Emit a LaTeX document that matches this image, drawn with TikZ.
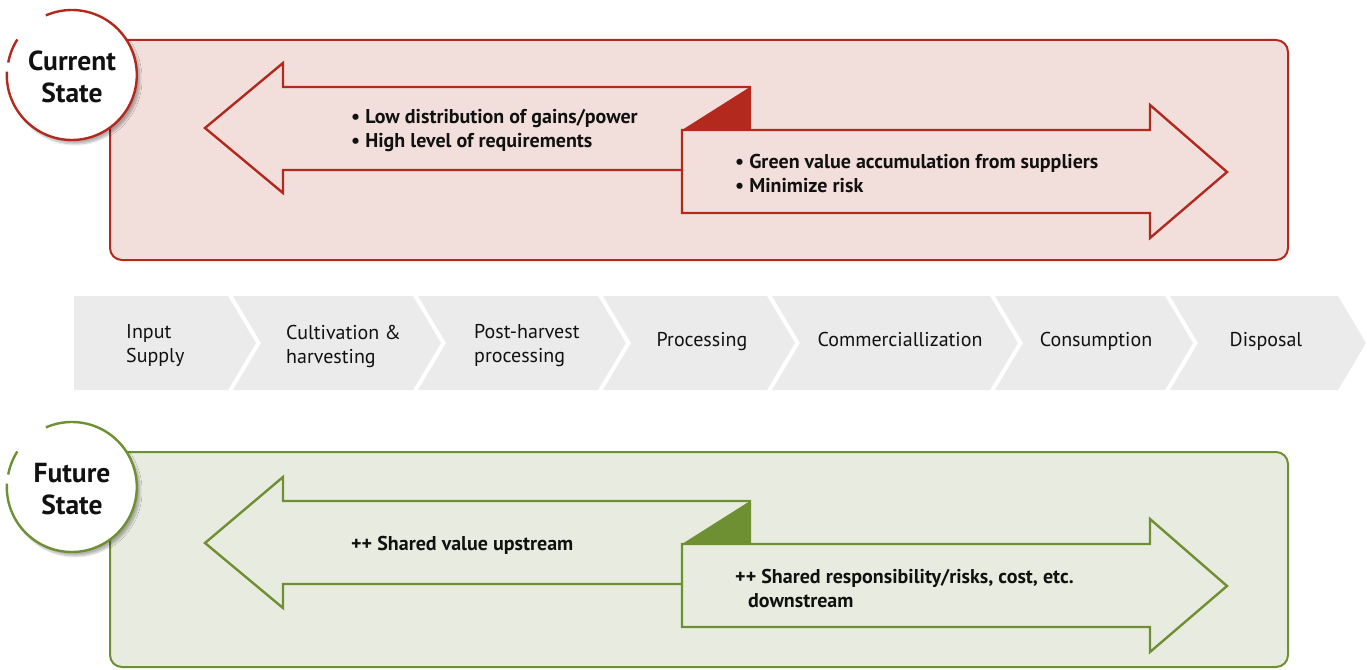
\documentclass[tikz,border=0pt]{standalone}
\usepackage{fontspec}
\setmainfont{PT Sans}
\usetikzlibrary{shadows.blur}
\definecolor{redline}{HTML}{B3291E}
\definecolor{redfill}{HTML}{F2DFDC}
\definecolor{greenline}{HTML}{6E9032}
\definecolor{greenfill}{HTML}{E8ECE0}
\definecolor{chevgray}{HTML}{EBEBEB}
\definecolor{txt}{HTML}{111111}
\tikzset{
  statebox/.style={rounded corners=12pt, line width=2pt},
  bigarrow/.style={line width=2.4pt, line join=miter},
  statecircle/.style={circle, minimum size=130pt, inner sep=0pt, fill=white,
    blur shadow={shadow blur steps=8, shadow xshift=3pt, shadow yshift=-4pt, shadow opacity=30}},
  statetext/.style={font=\fontsize{27.5}{32}\selectfont\bfseries, align=center, text=txt},
  bullettext/.style={font=\fontsize{20}{24}\selectfont\bfseries, align=left, anchor=west, inner sep=0pt, text=txt},
  chevtext/.style={font=\fontsize{20}{24}\selectfont, text=txt, inner sep=0pt},
  chevsingle/.style={chevtext, text height=14pt, text depth=4pt},
  chev/.style={fill=chevgray, draw=none},
}
\begin{document}
\begin{tikzpicture}[x=1pt, y=-1pt]
\useasboundingbox (0,0) rectangle (1370,669);

% ---------- Current state ----------
\draw[statebox, draw=redline, fill=redfill] (110,40) rectangle (1288,260);
% left arrow
\draw[bigarrow, draw=redline, fill=redfill]
  (205,128) -- (283,63) -- (283,87) -- (750,87) -- (750,170) -- (283,170) -- (283,193) -- cycle;
% fold
\fill[redline] (682,130) -- (750,87) -- (750,130) -- cycle;
% right arrow
\draw[bigarrow, draw=redline, fill=redfill]
  (682,130) -- (1150,130) -- (1150,105) -- (1227,172) -- (1150,238) -- (1150,213) -- (682,213) -- cycle;
\node[bullettext] (cl) at (351,130) {• Low distribution of gains/power\\• High level of requirements};
\node[bullettext] (cr) at (735,173) {• Green value accumulation from suppliers\\• Minimize risk};

\node[statecircle] (cs) at (72,75) {};
\draw[redline, line width=2.4pt] (cs.177) arc[start angle=177, end angle=473.5, radius=65pt];
\draw[redline, line width=2.4pt] (cs.147.5) arc[start angle=147.5, end angle=169.5, radius=65pt];
\node[statetext] (cst) at (72,77) {Current\\State};

% ---------- Value chain chevrons ----------
\fill[chev] (74,296) -- (228,296) -- (256,343) -- (228,390) -- (74,390) -- cycle;
\foreach \L/\R in {233/413, 418/598, 603/767, 772/990, 995/1165, 1170/1338}{
  \fill[chev] (\L,296) -- (\R,296) -- (\R+28,343) -- (\R,390) -- (\L,390) -- (\L+28,343) -- cycle;
}
\node[chevtext, anchor=west, align=left] (c1) at (126,346) {Input\\Supply};
\node[chevtext, anchor=west, align=left] (c2) at (286,346) {Cultivation \&\\harvesting};
\node[chevtext, anchor=west, align=left] (c3) at (474,346) {Post-harvest\\processing};
\node[chevsingle] (c4) at (702,341) {Processing};
\node[chevsingle] (c5) at (900,341) {Commerciallization};
\node[chevsingle] (c6) at (1096,341) {Consumption};
\node[chevsingle] (c7) at (1266,341) {Disposal};

% ---------- Future state ----------
\draw[statebox, draw=greenline, fill=greenfill] (110,452) rectangle (1288,667);
\draw[bigarrow, draw=greenline, fill=greenfill]
  (205,543) -- (283,477) -- (283,501) -- (750,501) -- (750,584) -- (283,584) -- (283,608) -- cycle;
\fill[greenline] (682,544) -- (750,501) -- (750,544) -- cycle;
\draw[bigarrow, draw=greenline, fill=greenfill]
  (682,544) -- (1150,544) -- (1150,519) -- (1227,586) -- (1150,652) -- (1150,627) -- (682,627) -- cycle;
\node[bullettext] (fl) at (351,545) {++ Shared value upstream};
\node[bullettext] (fr) at (735,588.5) {++ Shared responsibility/risks, cost, etc.\\\hspace*{13pt}downstream};

\node[statecircle] (fs) at (72,487) {};
\draw[greenline, line width=2.4pt] (fs.177) arc[start angle=177, end angle=473.5, radius=65pt];
\draw[greenline, line width=2.4pt] (fs.147.5) arc[start angle=147.5, end angle=169.5, radius=65pt];
\node[statetext] (fst) at (72,489) {Future\\State};
\end{tikzpicture}
\end{document}
